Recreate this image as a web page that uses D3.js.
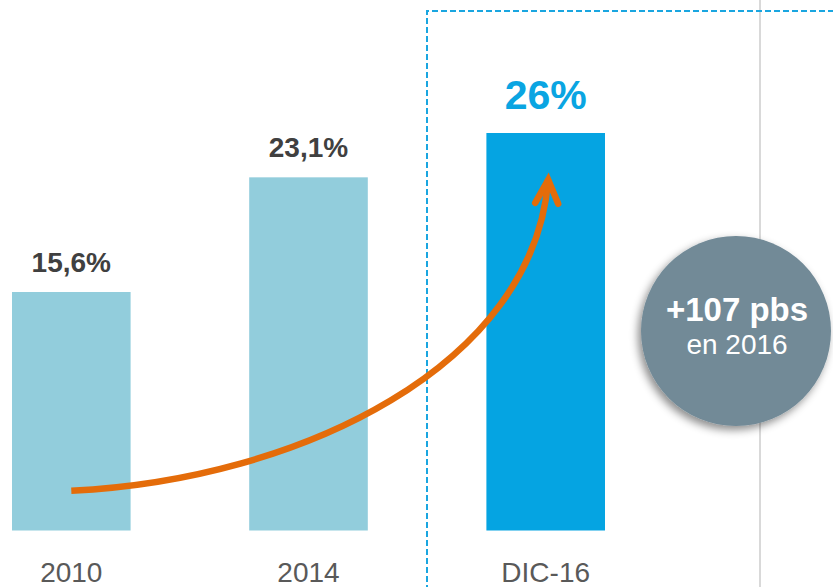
<!DOCTYPE html>
<html><head><meta charset="utf-8">
<script src="https://cdn.jsdelivr.net/npm/d3@7"></script>
<style>html,body{margin:0;padding:0;background:#fff;}svg{display:block;}</style>
</head><body>
<svg id="chart" width="833" height="587"></svg>
<script>
const categories = ["2010", "2014", "DIC-16"];
const values = [15.6, 23.1, 26];
const valueLabels = ["15,6%", "23,1%", "26%"];
const barColors = ["#92CDDC", "#92CDDC", "#05A4E2"];
const badgeLines = ["+107 pbs", "en 2016"];
const font = "'Liberation Sans', Arial, sans-serif";

const svg = d3.select("#chart");
const x = d3.scaleBand().domain(categories).range([12, 605]).paddingInner(0.5).paddingOuter(0);
const y = d3.scaleLinear().domain([0, 26]).range([530.5, 133]);

const defs = svg.append("defs");
const f = defs.append("filter").attr("id","shadow").attr("x","-30%").attr("y","-30%").attr("width","160%").attr("height","160%");
f.append("feDropShadow").attr("dx",-3).attr("dy",4).attr("stdDeviation",4).attr("flood-color","#000").attr("flood-opacity",0.45);

// gray vertical separator
svg.append("line").attr("x1",760).attr("x2",760).attr("y1",0).attr("y2",587)
  .attr("stroke","#D9D9D9").attr("stroke-width",2);

// dashed highlight box
svg.append("path").attr("d","M427,600 L427,11 L840,11")
  .attr("fill","none").attr("stroke","#1AA6E0").attr("stroke-width",2).attr("stroke-dasharray","6,3");

// bars
svg.selectAll("rect.bar").data(categories).join("rect").attr("class","bar")
  .attr("x", d => x(d)).attr("width", x.bandwidth())
  .attr("y", (d,i) => y(values[i])).attr("height", (d,i) => y(0) - y(values[i]))
  .attr("fill", (d,i) => barColors[i]);

// value labels
svg.selectAll("text.val").data(categories).join("text").attr("class","val")
  .attr("x", d => x(d) + x.bandwidth()/2)
  .attr("y", (d,i) => y(values[i]) - (i === 2 ? 24 : 20))
  .attr("text-anchor","middle").attr("font-family",font).attr("font-weight","bold")
  .attr("font-size", (d,i) => i === 2 ? 41 : 28)
  .attr("fill", (d,i) => i === 2 ? "#0AA5E2" : "#404040")
  .text((d,i) => valueLabels[i]);

// category labels
svg.selectAll("text.cat").data(categories).join("text").attr("class","cat")
  .attr("x", d => x(d) + x.bandwidth()/2).attr("y", 582)
  .attr("text-anchor","middle").attr("font-family",font).attr("font-size",28)
  .attr("fill","#595959").text(d => d);

// orange growth arrow
const p0 = [x(categories[0]) + x.bandwidth()/2, y(2.6)];
const p3 = [x(categories[2]) + x.bandwidth()/2 + 2.5, y(23.0)];
const path = d3.path();
path.moveTo(p0[0], p0[1]);
path.bezierCurveTo(300, 480, 535, 365, p3[0], p3[1]);
svg.append("path").attr("d", path.toString()).attr("fill","none")
  .attr("stroke","#E46C0A").attr("stroke-width",6.5).attr("stroke-linecap","butt");
svg.append("path")
  .attr("d", `M${p3[0]-13},${p3[1]+24} L${p3[0]},${p3[1]+1} L${p3[0]+10},${p3[1]+25}`)
  .attr("fill","none").attr("stroke","#E46C0A").attr("stroke-width",6.5)
  .attr("stroke-linecap","round").attr("stroke-linejoin","miter");

// badge circle
const g = svg.append("g");
g.append("circle").attr("cx",736).attr("cy",331).attr("r",95)
  .attr("fill","#728A97").attr("filter","url(#shadow)");
g.append("text").attr("x",737).attr("y",321).attr("text-anchor","middle")
  .attr("font-family",font).attr("font-weight","bold").attr("font-size",33)
  .attr("fill","#fff").text(badgeLines[0]);
g.append("text").attr("x",737).attr("y",354).attr("text-anchor","middle")
  .attr("font-family",font).attr("font-size",28)
  .attr("fill","#fff").text(badgeLines[1]);
</script>
</body></html>
